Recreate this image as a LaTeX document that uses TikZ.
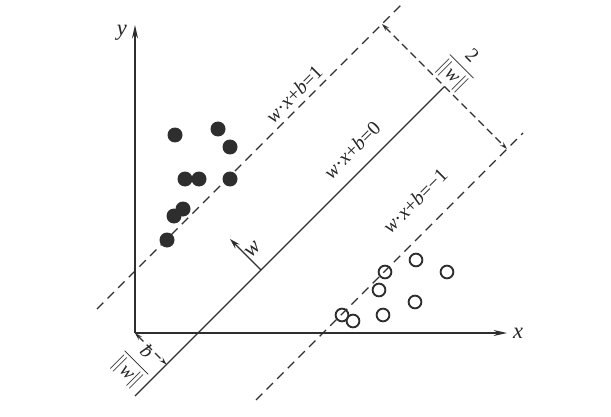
\documentclass[tikz,border=0pt]{standalone}
\usepackage{fontspec}
\setmainfont{Liberation Serif}
\usetikzlibrary{arrows.meta}
\newcommand{\vw}{\textit{w}}
\newcommand{\eqlbl}[1]{\vw·\textit{x}+\textit{b}=#1}
\begin{document}
\begin{tikzpicture}[x=0.6667pt,y=-0.6667pt,
  ink/.style={draw=black!82},
  axis/.style={ink,line width=0.95pt,-{Stealth[length=9pt,width=4pt]}},
  dashln/.style={ink,line width=0.9pt,dash pattern=on 6pt off 4pt},
  solidln/.style={ink,line width=0.9pt},
  dimarrow/.style={ink,line width=0.9pt,dash pattern=on 5pt off 3pt,{Stealth[length=5pt,width=3pt]}-{Stealth[length=5pt,width=3pt]}},
  warrow/.style={ink,line width=0.9pt,-{Stealth[length=7pt,width=4pt]}},
  fdot/.style={circle,fill=black!82,minimum size=10pt,inner sep=0pt},
  odot/.style={circle,draw=black!82,line width=1.25pt,minimum size=8.5pt,inner sep=0pt},
  lbl/.style={inner sep=0pt,text=black!85,scale=1.33},
  biglbl/.style={lbl,scale=1.13},
]
\useasboundingbox (0,0) rectangle (611,416);
% axes
\coordinate (O) at (135,333);
\coordinate (X) at (507,333);
\coordinate (Y) at (135,25);
\draw[axis] (O) -- (X);
\draw[axis] (O) -- (Y);
\node[biglbl] (xl) at (518,333) {\textit{x}};
\node[biglbl] (yl) at (122,33) {\textit{y}};
% lines
\coordinate (u1) at (97,309);
\coordinate (u2) at (403,3);
\coordinate (m1) at (135,396);
\coordinate (m2) at (444.5,86.5);
\coordinate (l1) at (256,400);
\coordinate (l2) at (523,133);
\draw[dashln] (u1) -- (u2);
\draw[solidln] (m1) -- (m2);
\draw[dashln] (l1) -- (l2);
% margin dimension
\coordinate (du) at (382,24);
\coordinate (dl) at (507,149);
\draw[dimarrow] (du) -- (dl);
\node[lbl,rotate=-45] (marg) at (461,67) {$\displaystyle\frac{\mbox{2}}{\|\mbox{\vw}\|}$};
% offset b
\coordinate (bf) at (166.5,364.5);
\draw[dimarrow] (O) -- (bf);
\node[lbl,rotate=-45] (bl) at (136,363) {$\displaystyle\frac{\mbox{\textit{b}}}{\|\mbox{\vw}\|}$};
% w normal
\coordinate (wf) at (261,270);
\coordinate (wt) at (230,239);
\draw[warrow] (wf) -- (wt);
\node[biglbl,rotate=45] (wl) at (253,250) {\vw};
% line labels
\node[lbl,rotate=45] (t1) at (294,94) {\eqlbl{1}};
\node[lbl,rotate=45] (t0) at (352,150) {\eqlbl{0}};
\node[lbl,rotate=45] (tm) at (415,201) {\eqlbl{−1}};
% filled points
\node[fdot] (p1) at (175,135) {};
\node[fdot] (p2) at (218,129) {};
\node[fdot] (p3) at (230,147) {};
\node[fdot] (p4) at (185,179) {};
\node[fdot] (p5) at (199,179) {};
\node[fdot] (p6) at (230,179) {};
\node[fdot] (p7) at (174,216) {};
\node[fdot] (p8) at (183,209) {};
\node[fdot] (p9) at (167,240) {};
% open points
\node[odot] (q1) at (385,272) {};
\node[odot] (q2) at (416,260) {};
\node[odot] (q3) at (447,272) {};
\node[odot] (q4) at (379,290) {};
\node[odot] (q5) at (415,302) {};
\node[odot] (q6) at (342,315) {};
\node[odot] (q7) at (353,321) {};
\node[odot] (q8) at (383,315) {};
\end{tikzpicture}
\end{document}
